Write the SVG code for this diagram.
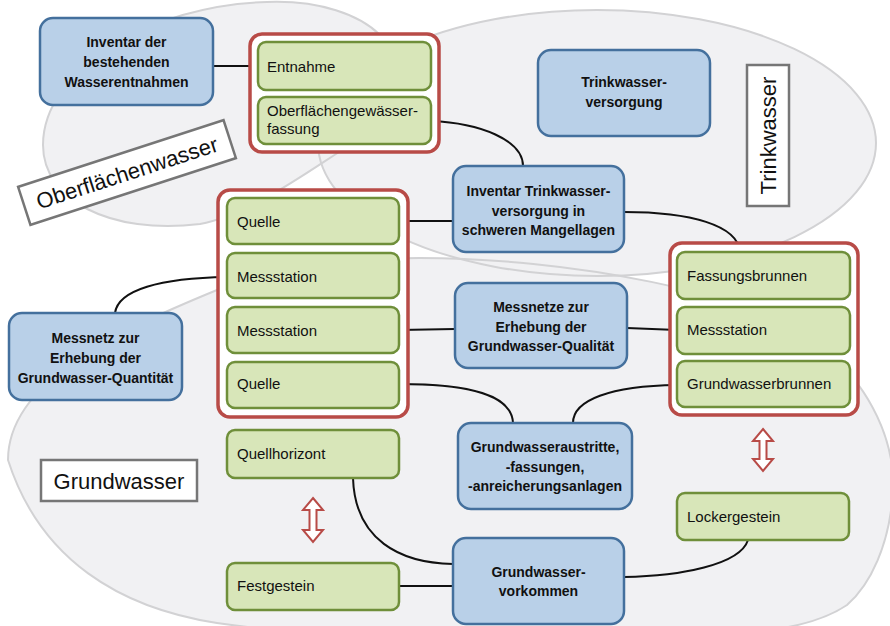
<svg xmlns="http://www.w3.org/2000/svg" width="890" height="626" viewBox="0 0 890 626">
<style>
.bg{fill:#f1f1f3;stroke:none}
.bgl{fill:none;stroke:#d2d2d4;stroke-width:2}
.blue{fill:#b9d0e8;stroke:#44709d;stroke-width:2.5}
.green{fill:#d8e6b9;stroke:#6f8f3a;stroke-width:2.5}
.grp{fill:#ffffff;stroke:#b84b47;stroke-width:3.5}
.lbl{fill:#ffffff;stroke:#767676;stroke-width:2.5}
.bt{font-family:"Liberation Sans",Arial,sans-serif;font-weight:bold;font-size:14px;fill:#111;text-anchor:middle}
.gt{font-family:"Liberation Sans",Arial,sans-serif;font-size:15px;fill:#111}
.lt{font-family:"Liberation Sans",Arial,sans-serif;font-size:22px;fill:#111;text-anchor:middle}
.con{fill:none;stroke:#111;stroke-width:2}
.arr{fill:#ffffff;stroke:#b84b47;stroke-width:2}
</style>
<rect width="890" height="626" fill="#ffffff"/>
<g id="areas">
<path id="ow-fill" class="bg" d="M43,145 C43,70 150,5 267,2 C320,0 360,15 380,35 C420,70 400,115 350,145 C310,170 250,215 200,224 C110,235 43,200 43,145 Z"/>
<ellipse id="tw-fill" class="bg" cx="597" cy="143" rx="279" ry="133"/>
<path id="gw-fill" class="bg" d="M8,460 C8,380 120,330 217,290 C280,265 330,258 420,258 C560,258 760,290 830,353 C870,390 895,440 893,490 C890,545 870,585 847,605 C810,630 750,634 693,634 C550,645 350,642 217,623 C120,608 40,560 8,460 Z"/>
<path class="bgl" d="M43,145 C43,70 150,5 267,2 C320,0 360,15 380,35 C420,70 400,115 350,145 C310,170 250,215 200,224 C110,235 43,200 43,145 Z"/>
<ellipse class="bgl" cx="597" cy="143" rx="279" ry="133"/>
<path class="bgl" d="M8,460 C8,380 120,330 217,290 C280,265 330,258 420,258 C560,258 760,290 830,353 C870,390 895,440 893,490 C890,545 870,585 847,605 C810,630 750,634 693,634 C550,645 350,642 217,623 C120,608 40,560 8,460 Z"/>
</g>
<g id="labels">
<g id="label-oberflaechenwasser" transform="translate(127,172.5) rotate(-18)">
<rect class="lbl" x="-108" y="-20" width="216" height="40"/>
<text class="lt" x="0" y="8">Oberflächenwasser</text>
</g>
<g id="label-trinkwasser">
<rect class="lbl" x="747" y="65" width="42" height="141"/>
<text class="lt" transform="translate(768,135.5) rotate(-90)" x="0" y="8">Trinkwasser</text>
</g>
<g id="label-grundwasser">
<rect class="lbl" x="41" y="460" width="156" height="41"/>
<text class="lt" x="119" y="489">Grundwasser</text>
</g>
</g>
<g id="connectors">
<path class="con" d="M213,66 L258,66"/>
<path class="con" d="M431,121 C480,123 523,140 523,166"/>
<path class="con" d="M399,221 L453,221"/>
<path class="con" d="M624,212 C690,212 738,225 740,252"/>
<path class="con" d="M227,277 C160,278 118,290 115,313"/>
<path class="con" d="M399,330 L455,329"/>
<path class="con" d="M627,328 L677,330"/>
<path class="con" d="M399,384 C470,384 512,395 513,423"/>
<path class="con" d="M677,385 C610,386 573,400 573,423"/>
<path class="con" d="M353,478 C355,540 400,563 453,564"/>
<path class="con" d="M399,586 L453,586"/>
<path class="con" d="M748,540 C740,565 680,576 624,577"/>
</g>
<g id="group-oberflaeche"><rect class="grp" x="250" y="34" width="189" height="118" rx="12"/></g>
<g id="group-quellen"><rect class="grp" x="218" y="190" width="190" height="227" rx="12"/></g>
<g id="group-brunnen"><rect class="grp" x="670" y="243" width="188" height="172" rx="12"/></g>
<g id="n-inventar-entnahmen">
<rect class="blue" x="40" y="18" width="173" height="87" rx="13"/>
<text class="bt" x="126.5" y="47">Inventar der</text>
<text class="bt" x="126.5" y="67">bestehenden</text>
<text class="bt" x="126.5" y="87">Wasserentnahmen</text>
</g>
<g id="n-trinkwasserversorgung">
<rect class="blue" x="538" y="50" width="172" height="86" rx="13"/>
<text class="bt" x="624" y="87">Trinkwasser-</text>
<text class="bt" x="624" y="107">versorgung</text>
</g>
<g id="n-inventar-trinkwasser">
<rect class="blue" x="453" y="166" width="171" height="86" rx="13"/>
<text class="bt" x="538.5" y="196">Inventar Trinkwasser-</text>
<text class="bt" x="538.5" y="216">versorgung in</text>
<text class="bt" x="538.5" y="235">schweren Mangellagen</text>
</g>
<g id="n-messnetz-quantitaet">
<rect class="blue" x="9" y="313" width="173" height="87" rx="13"/>
<text class="bt" x="95.5" y="343">Messnetz zur</text>
<text class="bt" x="95.5" y="363">Erhebung der</text>
<text class="bt" x="95.5" y="383">Grundwasser-Quantität</text>
</g>
<g id="n-messnetze-qualitaet">
<rect class="blue" x="455" y="283" width="172" height="85" rx="13"/>
<text class="bt" x="541" y="312">Messnetze zur</text>
<text class="bt" x="541" y="332">Erhebung der</text>
<text class="bt" x="541" y="351">Grundwasser-Qualität</text>
</g>
<g id="n-grundwasseraustritte">
<rect class="blue" x="458" y="423" width="174" height="86" rx="13"/>
<text class="bt" x="545" y="452">Grundwasseraustritte,</text>
<text class="bt" x="545" y="472">-fassungen,</text>
<text class="bt" x="545" y="491">-anreicherungsanlagen</text>
</g>
<g id="n-grundwasservorkommen">
<rect class="blue" x="453" y="538" width="171" height="86" rx="13"/>
<text class="bt" x="538.5" y="577">Grundwasser-</text>
<text class="bt" x="538.5" y="596">vorkommen</text>
</g>
<g id="n-entnahme">
<rect class="green" x="258" y="42" width="173" height="48" rx="8"/>
<text class="gt" x="267" y="71.5">Entnahme</text>
</g>
<g id="n-oberflaechengewaesserfassung">
<rect class="green" x="258" y="97" width="173" height="47" rx="8"/>
<text class="gt" x="267" y="115.5">Oberflächengewässer-</text>
<text class="gt" x="267" y="133.5">fassung</text>
</g>
<g id="n-quelle-1">
<rect class="green" x="227" y="198" width="172" height="46" rx="8"/>
<text class="gt" x="237" y="227">Quelle</text>
</g>
<g id="n-messstation-1">
<rect class="green" x="227" y="253" width="172" height="45" rx="8"/>
<text class="gt" x="237" y="282">Messstation</text>
</g>
<g id="n-messstation-2">
<rect class="green" x="227" y="307" width="172" height="46" rx="8"/>
<text class="gt" x="237" y="336">Messstation</text>
</g>
<g id="n-quelle-2">
<rect class="green" x="227" y="362" width="172" height="46" rx="8"/>
<text class="gt" x="237" y="389">Quelle</text>
</g>
<g id="n-fassungsbrunnen">
<rect class="green" x="677" y="252" width="173" height="47" rx="8"/>
<text class="gt" x="687" y="281">Fassungsbrunnen</text>
</g>
<g id="n-messstation-3">
<rect class="green" x="677" y="307" width="173" height="47" rx="8"/>
<text class="gt" x="687" y="335">Messstation</text>
</g>
<g id="n-grundwasserbrunnen">
<rect class="green" x="677" y="361" width="173" height="46" rx="8"/>
<text class="gt" x="687" y="389">Grundwasserbrunnen</text>
</g>
<g id="n-quellhorizont">
<rect class="green" x="227" y="430" width="172" height="48" rx="8"/>
<text class="gt" x="237" y="459">Quellhorizont</text>
</g>
<g id="n-festgestein">
<rect class="green" x="227" y="563" width="172" height="47" rx="8"/>
<text class="gt" x="237" y="591">Festgestein</text>
</g>
<g id="n-lockergestein">
<rect class="green" x="677" y="493" width="172" height="47" rx="8"/>
<text class="gt" x="687" y="522">Lockergestein</text>
</g>
<g id="arrows">
<polygon class="arr" points="313,498 323,510 316.5,510 316.5,530 323,530 313,542 303,530 309.5,530 309.5,510 303,510"/>
<polygon class="arr" points="763,429 773,441 766.5,441 766.5,459 773,459 763,471 753,459 759.5,459 759.5,441 753,441"/>
</g>
</svg>
